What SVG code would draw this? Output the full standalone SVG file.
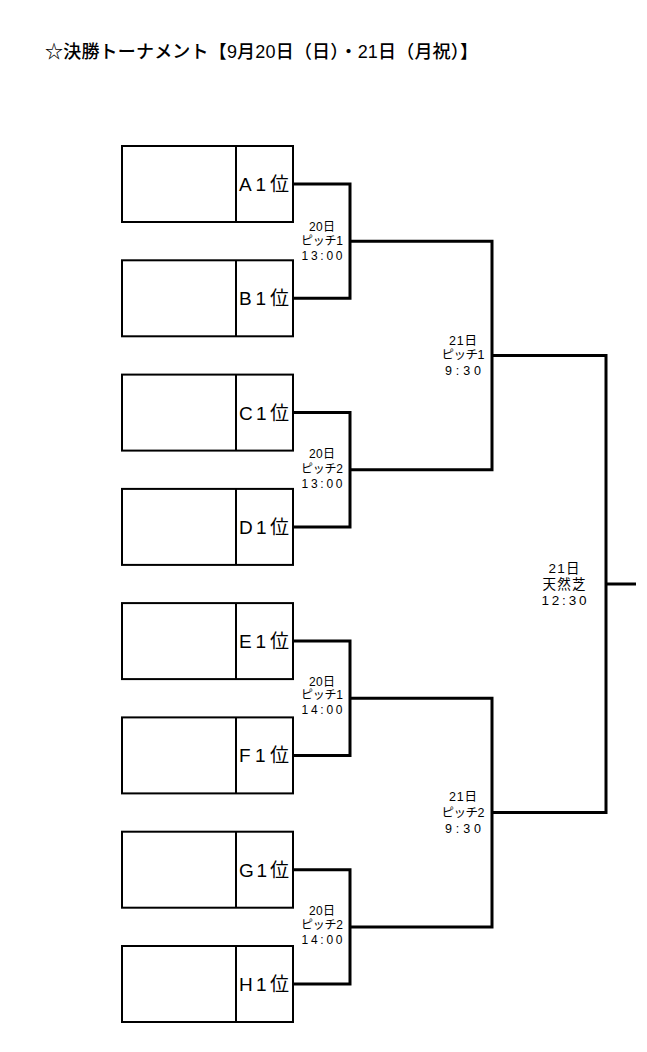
<svg xmlns="http://www.w3.org/2000/svg" width="647" height="1052" viewBox="0 0 647 1052">
<style>
.bg{fill:#fff}
.box{fill:#fff;stroke:#000;stroke-width:2}
.div{stroke:#000;stroke-width:2}
.con{fill:none;stroke:#000;stroke-width:3;stroke-linejoin:miter}
.t{font-family:"Liberation Sans","Noto Sans CJK JP",sans-serif;fill:#000}
.title{font-size:18px;font-weight:500}
.team{font-size:19px}
.m1{font-size:12px;text-anchor:middle}
.m2{font-size:12.5px;text-anchor:middle}
.m3{font-size:13.5px;text-anchor:middle}
</style>
<rect class="bg" x="0" y="0" width="647" height="1052"/>
<text class="t title" x="45" y="58" textLength="433" lengthAdjust="spacing">☆決勝トーナメント【9月20日（日）・21日（月祝）】</text>

<g id="connectors">
<polyline class="con" points="293,184 350,184 350,298.3 293,298.3"/>
<polyline class="con" points="293,412.6 350,412.6 350,526.9 293,526.9"/>
<polyline class="con" points="293,641.1 350,641.1 350,755.4 293,755.4"/>
<polyline class="con" points="293,869.7 350,869.7 350,984 293,984"/>
<polyline class="con" points="350,241.2 492,241.2 492,469.7 350,469.7"/>
<polyline class="con" points="350,698.3 492,698.3 492,926.9 350,926.9"/>
<polyline class="con" points="492,355.4 606,355.4 606,812.6 492,812.6"/>
<line class="con" x1="606" y1="584" x2="636" y2="584"/>
</g>

<g id="team-A"><rect class="box" x="122" y="146" width="171" height="76"/><line class="div" x1="236" y1="146" x2="236" y2="222"/><text class="t team" x="239" y="191" textLength="50" lengthAdjust="spacing">A1位</text></g>
<g id="team-B"><rect class="box" x="122" y="260.3" width="171" height="76"/><line class="div" x1="236" y1="260.3" x2="236" y2="336.3"/><text class="t team" x="239" y="305.3" textLength="50" lengthAdjust="spacing">B1位</text></g>
<g id="team-C"><rect class="box" x="122" y="374.6" width="171" height="76"/><line class="div" x1="236" y1="374.6" x2="236" y2="450.6"/><text class="t team" x="239" y="419.6" textLength="50" lengthAdjust="spacing">C1位</text></g>
<g id="team-D"><rect class="box" x="122" y="488.9" width="171" height="76"/><line class="div" x1="236" y1="488.9" x2="236" y2="564.9"/><text class="t team" x="239" y="533.9" textLength="50" lengthAdjust="spacing">D1位</text></g>
<g id="team-E"><rect class="box" x="122" y="603.1" width="171" height="76"/><line class="div" x1="236" y1="603.1" x2="236" y2="679.1"/><text class="t team" x="239" y="648.1" textLength="50" lengthAdjust="spacing">E1位</text></g>
<g id="team-F"><rect class="box" x="122" y="717.4" width="171" height="76"/><line class="div" x1="236" y1="717.4" x2="236" y2="793.4"/><text class="t team" x="239" y="762.4" textLength="50" lengthAdjust="spacing">F1位</text></g>
<g id="team-G"><rect class="box" x="122" y="831.7" width="171" height="76"/><line class="div" x1="236" y1="831.7" x2="236" y2="907.7"/><text class="t team" x="239" y="876.7" textLength="50" lengthAdjust="spacing">G1位</text></g>
<g id="team-H"><rect class="box" x="122" y="946" width="171" height="76"/><line class="div" x1="236" y1="946" x2="236" y2="1022"/><text class="t team" x="239" y="991" textLength="50" lengthAdjust="spacing">H1位</text></g>

<g id="match-AB">
<text class="t m1" x="322" y="231" textLength="26" lengthAdjust="spacing">20日</text>
<text class="t m1" x="322" y="245" textLength="42" lengthAdjust="spacing">ピッチ1</text>
<text class="t m1" x="322" y="260" textLength="41" lengthAdjust="spacing">13:00</text>
</g>
<g id="match-CD">
<text class="t m1" x="322" y="458" textLength="26" lengthAdjust="spacing">20日</text>
<text class="t m1" x="322" y="473" textLength="42" lengthAdjust="spacing">ピッチ2</text>
<text class="t m1" x="322" y="488" textLength="41" lengthAdjust="spacing">13:00</text>
</g>
<g id="match-EF">
<text class="t m1" x="322" y="686" textLength="26" lengthAdjust="spacing">20日</text>
<text class="t m1" x="322" y="699" textLength="42" lengthAdjust="spacing">ピッチ1</text>
<text class="t m1" x="322" y="714" textLength="41" lengthAdjust="spacing">14:00</text>
</g>
<g id="match-GH">
<text class="t m1" x="322" y="915" textLength="26" lengthAdjust="spacing">20日</text>
<text class="t m1" x="322" y="929" textLength="42" lengthAdjust="spacing">ピッチ2</text>
<text class="t m1" x="322" y="944" textLength="41" lengthAdjust="spacing">14:00</text>
</g>
<g id="match-SF1">
<text class="t m2" x="463" y="344.5" textLength="28" lengthAdjust="spacing">21日</text>
<text class="t m2" x="463" y="359" textLength="43" lengthAdjust="spacing">ピッチ1</text>
<text class="t m2" x="463" y="374.5" textLength="36" lengthAdjust="spacing">9:30</text>
</g>
<g id="match-SF2">
<text class="t m2" x="463" y="801" textLength="28" lengthAdjust="spacing">21日</text>
<text class="t m2" x="463" y="817" textLength="43" lengthAdjust="spacing">ピッチ2</text>
<text class="t m2" x="463" y="833" textLength="36" lengthAdjust="spacing">9:30</text>
</g>
<g id="match-final">
<text class="t m3" x="564" y="573" textLength="31" lengthAdjust="spacing">21日</text>
<text class="t m3" x="564" y="589" textLength="43" lengthAdjust="spacing">天然芝</text>
<text class="t m3" x="564" y="605" textLength="45" lengthAdjust="spacing">12:30</text>
</g>
</svg>
